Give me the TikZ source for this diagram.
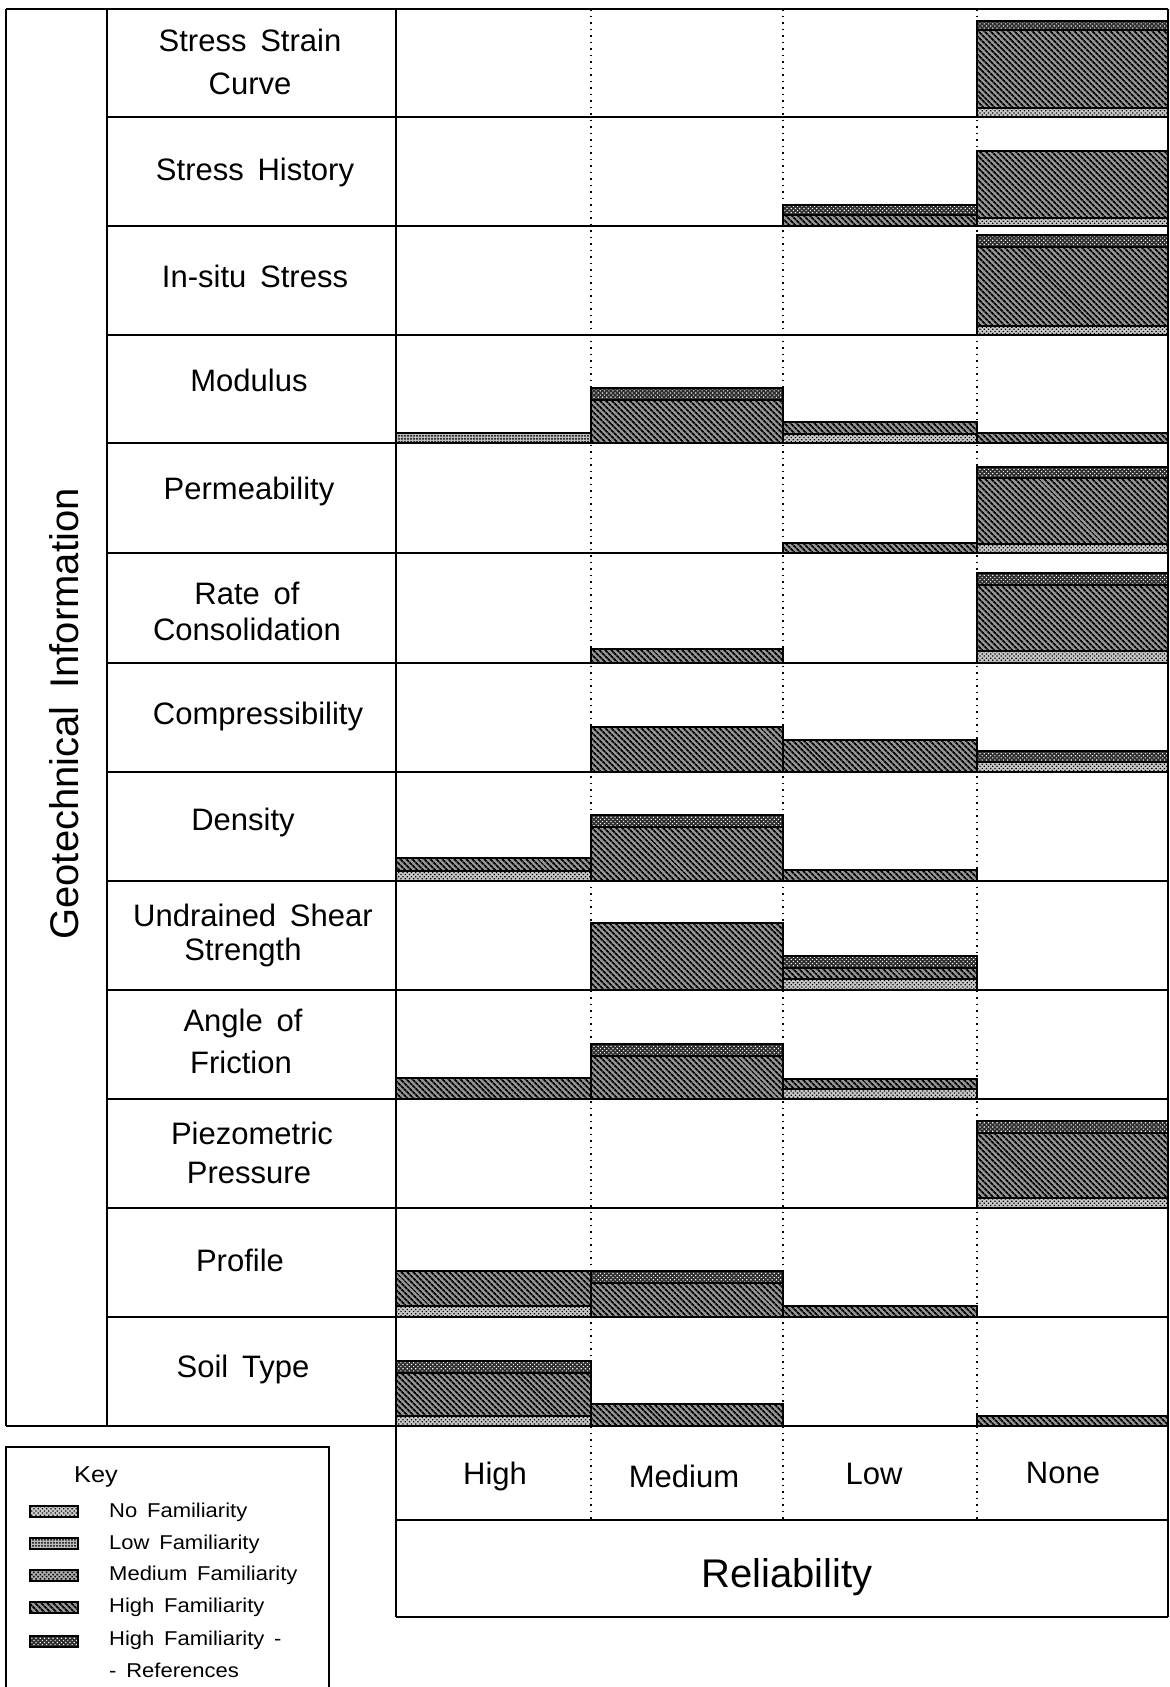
\documentclass[tikz,border=0pt]{standalone}
\usepackage{fontspec}
\setmainfont{Liberation Sans}[WordSpace=1.6]
\newfontfamily\keyfont{Liberation Sans}[WordSpace=1.6,FakeStretch=1.1]
\usetikzlibrary{patterns.meta}

% one stacked layer of a bar: x-left, x-right, y-top, y-bottom, style
\newcommand\seg[5]{\draw[#5] (#1,#3) rectangle (#2,#4);}

\tikzset{
  grid/.style={line width=1.8pt},
  dotcol/.style={line width=1.7pt, dash pattern=on 1.7pt off 4.8pt},
  famN/.style={draw=black, line width=1.2pt, preaction={fill=black!22},
    pattern={Dots[distance=3pt,radius=0.9pt,angle=45]}, pattern color=black},
  famL/.style={draw=black, line width=1.2pt, preaction={fill=black!26},
    pattern={Dots[distance=3pt,radius=1pt,angle=0]}, pattern color=black},
  famM/.style={draw=black, line width=1.2pt, preaction={fill=black!32},
    pattern={Dots[distance=3pt,radius=1.1pt,angle=45]}, pattern color=black},
  famH/.style={draw=black, line width=1.2pt, preaction={fill=black!42},
    pattern={Lines[angle=-45,distance=4pt,line width=1.8pt]}, pattern color=black},
  famR/.style={draw=black, line width=1.2pt, preaction={fill=black!82},
    pattern={Dots[distance=3pt,radius=0.8pt,angle=45]}, pattern color=white},
  rowlab/.style={anchor=base, inner sep=0pt, font=\fontsize{31}{36}\selectfont},
  catlab/.style={anchor=base, inner sep=0pt, font=\fontsize{31}{36}\selectfont},
  keylab/.style={anchor=base west, inner sep=0pt, font=\keyfont\fontsize{20}{24}\selectfont},
}

\begin{document}
\begin{tikzpicture}[x=1pt,y=-1pt]
\useasboundingbox (0,0) rectangle (1170,1687);
\fill[white] (0,0) rectangle (1170,1687);

% column separators (dotted)
\foreach \xx in {591,783,977} \draw[dotcol] (\xx,9) -- (\xx,1520);

% ---- stacked bars: columns High 396-591, Medium 591-783, Low 783-977, None 977-1168
% Stress Strain Curve
\seg{977}{1168}{21}{30}{famR}
\seg{977}{1168}{30}{108}{famH}
\seg{977}{1168}{108}{117}{famN}
% Stress History
\seg{783}{977}{205}{215}{famR}
\seg{783}{977}{215}{226}{famH}
\seg{977}{1168}{151}{218}{famH}
\seg{977}{1168}{218}{226}{famN}
% In-situ Stress
\seg{977}{1168}{235}{247}{famR}
\seg{977}{1168}{247}{326}{famH}
\seg{977}{1168}{326}{335}{famN}
% Modulus
\seg{396}{591}{433}{443}{famL}
\seg{591}{783}{388}{400}{famR}
\seg{591}{783}{400}{443}{famH}
\seg{783}{977}{422}{434}{famH}
\seg{783}{977}{434}{443}{famN}
\seg{977}{1168}{433}{443}{famH}
% Permeability
\seg{783}{977}{543}{553}{famH}
\seg{977}{1168}{467}{478}{famR}
\seg{977}{1168}{478}{544}{famH}
\seg{977}{1168}{544}{553}{famN}
% Rate of Consolidation
\seg{591}{783}{649}{663}{famH}
\seg{977}{1168}{573}{585}{famR}
\seg{977}{1168}{585}{651}{famH}
\seg{977}{1168}{651}{663}{famN}
% Compressibility
\seg{591}{783}{727}{772}{famH}
\seg{783}{977}{740}{772}{famH}
\seg{977}{1168}{751}{762}{famR}
\seg{977}{1168}{762}{772}{famN}
% Density
\seg{396}{591}{858}{871}{famH}
\seg{396}{591}{871}{881}{famN}
\seg{591}{783}{815}{827}{famR}
\seg{591}{783}{827}{881}{famH}
\seg{783}{977}{870}{881}{famH}
% Undrained Shear Strength
\seg{591}{783}{923}{990}{famH}
\seg{783}{977}{956}{968}{famR}
\seg{783}{977}{968}{979}{famH}
\seg{783}{977}{979}{990}{famN}
% Angle of Friction
\seg{396}{591}{1078}{1099}{famH}
\seg{591}{783}{1044}{1056}{famR}
\seg{591}{783}{1056}{1099}{famH}
\seg{783}{977}{1079}{1089}{famH}
\seg{783}{977}{1089}{1099}{famN}
% Piezometric Pressure
\seg{977}{1168}{1121}{1133}{famR}
\seg{977}{1168}{1133}{1198}{famH}
\seg{977}{1168}{1198}{1208}{famN}
% Profile
\seg{396}{591}{1271}{1306}{famH}
\seg{396}{591}{1306}{1317}{famN}
\seg{591}{783}{1271}{1283}{famR}
\seg{591}{783}{1283}{1317}{famH}
\seg{783}{977}{1306}{1317}{famH}
% Soil Type
\seg{396}{591}{1361}{1373}{famR}
\seg{396}{591}{1373}{1416}{famH}
\seg{396}{591}{1416}{1426}{famN}
\seg{591}{783}{1404}{1426}{famH}
\seg{977}{1168}{1416}{1426}{famH}

% ---- table frame
\draw[grid] (6,9) -- (1168,9);
\draw[grid] (6,9) -- (6,1426);
\draw[grid] (107,9) -- (107,1426);
\draw[grid] (396,9) -- (396,1617);
\draw[grid] (1168,9) -- (1168,1617);
\foreach \yy in {117,226,335,443,553,663,772,881,990,1099,1208,1317}
  \draw[grid] (107,\yy) -- (1168,\yy);
\draw[grid] (6,1426) -- (1168,1426);
\draw[grid] (396,1520) -- (1168,1520);
\draw[grid] (396,1617) -- (1168,1617);

% ---- axis titles
\node[rotate=90, inner sep=0pt, font=\fontsize{40}{46}\selectfont] (ytitle) at (64,714) {Geotechnical Information};
\node[anchor=base, inner sep=0pt, font=\fontsize{40}{46}\selectfont] (xtitle) at (787,1587) {Reliability};

% ---- reliability categories
\node[catlab] (cHigh) at (495,1484) {High};
\node[catlab] (cMed) at (684,1487) {Medium};
\node[catlab] (cLow) at (874,1484) {Low};
\node[catlab] (cNone) at (1063,1483) {None};

% ---- row labels
\node[rowlab] (r1a) at (250,51) {Stress Strain};
\node[rowlab] (r1b) at (250,94) {Curve};
\node[rowlab] (r2) at (255,180) {Stress History};
\node[rowlab] (r3) at (255,287) {In-situ Stress};
\node[rowlab] (r4) at (249,391) {Modulus};
\node[rowlab] (r5) at (249,499) {Permeability};
\node[rowlab] (r6a) at (247,604) {Rate of};
\node[rowlab] (r6b) at (247,640) {Consolidation};
\node[rowlab] (r7) at (258,724) {Compressibility};
\node[rowlab] (r8) at (243,830) {Density};
\node[rowlab] (r9a) at (253,926) {Undrained Shear};
\node[rowlab] (r9b) at (243,960) {Strength};
\node[rowlab] (r10a) at (243,1031) {Angle of};
\node[rowlab] (r10b) at (241,1073) {Friction};
\node[rowlab] (r11a) at (252,1144) {Piezometric};
\node[rowlab] (r11b) at (249,1183) {Pressure};
\node[rowlab] (r12) at (240,1271) {Profile};
\node[rowlab] (r13) at (243,1377) {Soil Type};

% ---- key
\draw[grid] (6,1687) -- (6,1447) -- (329,1447) -- (329,1687);
\node[keylab, font=\keyfont\fontsize{23}{27}\selectfont] (keyhead) at (74,1482) {Key};
\seg{30}{78}{1506}{1517}{famN}
\seg{30}{78}{1538}{1549}{famL}
\seg{30}{78}{1570}{1581}{famM}
\seg{30}{78}{1602}{1613}{famH}
\seg{30}{78}{1636}{1647}{famR}
\node[keylab] (k1) at (109,1517) {No Familiarity};
\node[keylab] (k2) at (109,1549) {Low Familiarity};
\node[keylab] (k3) at (109,1580) {Medium Familiarity};
\node[keylab] (k4) at (109,1612) {High Familiarity};
\node[keylab] (k5) at (109,1645) {High Familiarity -};
\node[keylab] (k5b) at (109,1677) {- References};
\end{tikzpicture}
\end{document}
